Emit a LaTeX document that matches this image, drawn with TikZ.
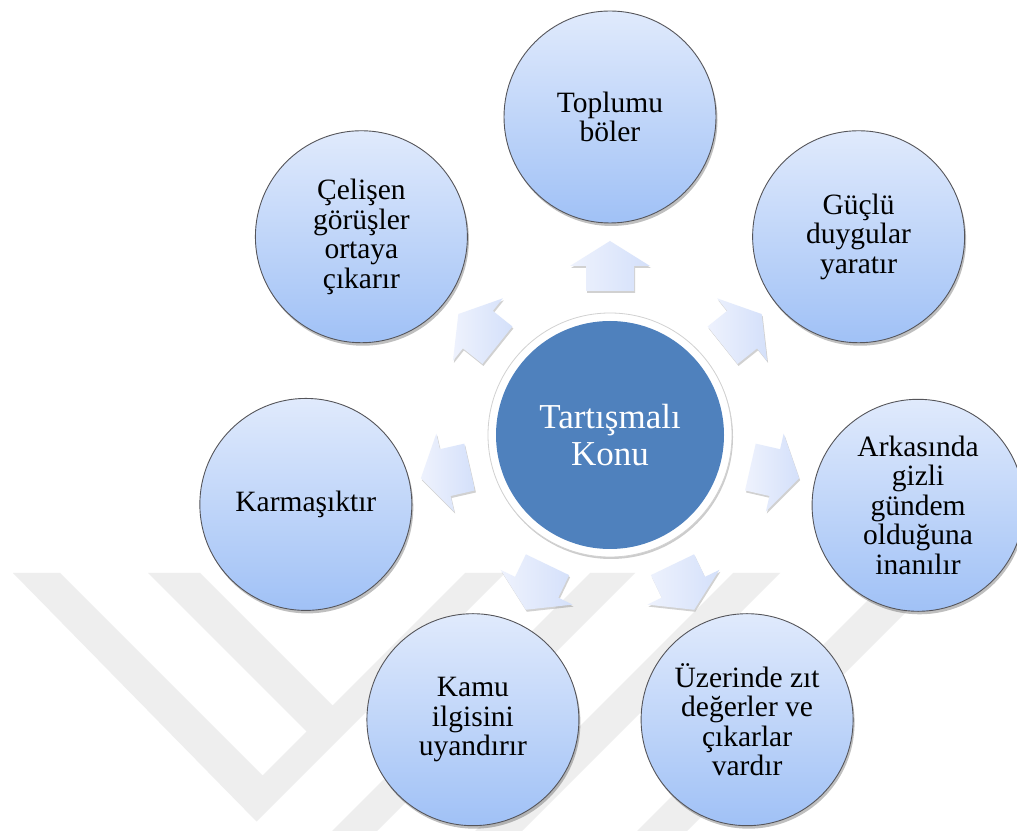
\documentclass[tikz,border=0pt]{standalone}
\usepackage{fontspec}
\setmainfont{Liberation Serif}
\usetikzlibrary{shadows,calc}

\definecolor{ringblue}{RGB}{79,129,189}
\definecolor{bubtop}{RGB}{224,234,252}
\definecolor{bubbot}{RGB}{160,193,246}
\definecolor{bubline}{RGB}{85,85,90}
\definecolor{arrtail}{RGB}{238,242,253}
\definecolor{arrhead}{RGB}{212,224,250}
\definecolor{wmark}{RGB}{238,238,238}

\tikzset{
  bubble/.style={circle, minimum size=212pt, inner sep=0pt, draw=bubline, line width=0.9pt,
    top color=bubtop, bottom color=bubbot, align=center,
    font=\fontsize{29.5}{29.5}\selectfont,
    drop shadow={shadow xshift=1.5pt, shadow yshift=-3pt, opacity=0.25, fill=black}},
  hubring/.style={circle, minimum size=244pt, inner sep=0pt, fill=white, draw=black!18, line width=0.8pt,
    drop shadow={shadow xshift=1pt, shadow yshift=-2pt, opacity=0.2, fill=black}},
  hub/.style={circle, minimum size=228pt, inner sep=0pt, fill=ringblue, text=white, align=center,
    font=\fontsize{35}{37}\selectfont},
  blockarrow/.style={left color=arrtail, right color=arrhead, draw=none,
    drop shadow={shadow xshift=1pt, shadow yshift=-2pt, opacity=0.18, fill=black}},
  wband/.style={fill=wmark, draw=none},
}

\begin{document}
\begin{tikzpicture}[x=1pt, y=1pt]
\useasboundingbox (0,0) rectangle (1017,830);
\fill[white] (0,0) rectangle (1017,830);

% faint background logo strokes (page coordinates measured from the top)
\begin{scope}[shift={(0,830)}, yscale=-1]
  \clip (0,573) rectangle (1017,830);
  % V with an inner arm
  \fill[wband] (13,573) -- (60,573) -- (262.5,775.5) -- (306.5,731.5) -- (148,573)
     -- (200,573) -- (332.5,705.5) -- (465,573) -- (505,573) -- (256.5,821.5) -- cycle;
  % rising strokes further right
  \fill[wband] (590,573) -- (635,573) -- (370,838) -- (325,838) -- cycle;
  \fill[wband] (733,573) -- (780,573) -- (515,838) -- (468,838) -- cycle;
  \fill[wband] (895,573) -- (945,573) -- (680,838) -- (630,838) -- cycle;
\end{scope}

\coordinate (c) at (610,395);

% block arrows pointing outward
\foreach \k in {0,...,6}{
  \pgfmathsetmacro{\ang}{90-\k*360/7}
  \begin{scope}[shift={(c)}, rotate=\ang]
    \path[blockarrow] (144,-24) -- (169,-24) -- (169,-40) -- (194,0)
      -- (169,40) -- (169,24) -- (144,24) -- cycle;
  \end{scope}
}

% central topic
\node[hubring] (ring) at (c) {};
\node[hub] (hub) at (c) {Tartışmalı\\Konu};

% surrounding properties
\node[bubble] (b0) at ($(c)+(90:318)$) {Toplumu\\böler};
\node[bubble] (b1) at ($(c)+({90-360/7}:318)$) {Güçlü\\duygular\\yaratır};
\node[bubble] (b2) at ($(c)+({90-2*360/7}:316)$) {Arkasında\\gizli\\gündem\\olduğuna\\inanılır};
\node[bubble] (b3) at ($(c)+({90-3*360/7}:316)$) {Üzerinde zıt\\değerler ve\\çıkarlar\\vardır};
\node[bubble] (b4) at ($(c)+({90-4*360/7}:316)$) {Kamu\\ilgisini\\uyandırır};
\node[bubble] (b5) at ($(c)+({90-5*360/7}:312)$) {Karmaşıktır};
\node[bubble] (b6) at ($(c)+({90-6*360/7}:318)$) {Çelişen\\görüşler\\ortaya\\çıkarır};
\end{tikzpicture}
\end{document}
